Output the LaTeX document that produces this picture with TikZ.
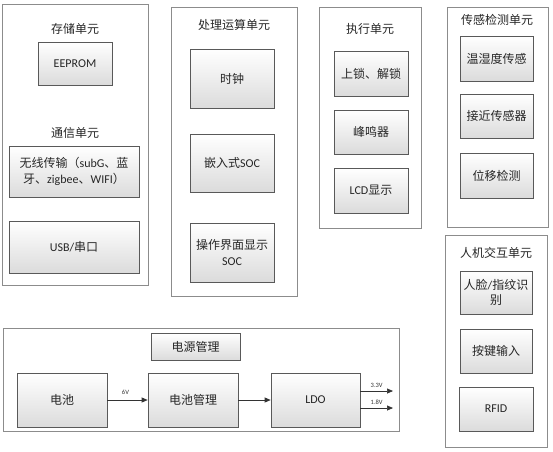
\documentclass[tikz,border=0pt]{standalone}
\usepackage{fontspec}
\setmainfont{Carlito}
\newfontfamily\cjk{Noto Sans CJK SC}
\usetikzlibrary{shadows,arrows.meta,shadings}
\newcommand{\zh}[1]{{\cjk #1}}
\begin{document}
\begin{tikzpicture}[x=1pt,y=-1pt,
  font=\fontsize{12}{15.5}\selectfont,
  container/.style={draw=black!45,line width=0.8pt,fill=white,
    drop shadow={shadow xshift=1pt,shadow yshift=-1pt,opacity=0.35,fill=black!50},
    inner sep=0pt,minimum width=#1},
  unitbox/.style={draw=black!65,line width=0.7pt,top color=white,bottom color=black!14,
    drop shadow={shadow xshift=1.2pt,shadow yshift=-1.2pt,opacity=0.4,fill=black!55},
    inner sep=1pt,align=center,text=black!85},
  title/.style={text=black!85,inner sep=0pt},
  conn/.style={draw=black!80,line width=0.7pt,-{Triangle[length=6pt,width=5pt]}},
  small/.style={font=\fontsize{6.5}{7}\selectfont,text=black!80,inner sep=0pt}
]
\useasboundingbox (0,0) rectangle (553,451);

% ---- storage & comms
\node[container=146pt,minimum height=281pt] (c1) at (75,144.5) {};
\node[title] (t1) at (75,29) {\zh{存储单元}};
\node[unitbox,minimum width=74pt,minimum height=43pt] (eeprom) at (75,63.5) {EEPROM};
\node[title] (t2) at (75,133) {\zh{通信单元}};
\node[unitbox,minimum width=130pt,minimum height=51pt] (wireless) at (74,171.5)
  {\zh{无线传输（}subG\zh{、蓝}\\\zh{牙、}zigbee\zh{、}WIFI\zh{）}};
\node[unitbox,minimum width=130pt,minimum height=52pt] (usb) at (74,247) {USB/\zh{串口}};

% ---- processing
\node[container=126pt,minimum height=289pt] (c2) at (234,151.5) {};
\node[title] (t3) at (234,25) {\zh{处理运算单元}};
\node[unitbox,minimum width=84pt,minimum height=59pt] (clk) at (232,78.5) {\zh{时钟}};
\node[unitbox,minimum width=84pt,minimum height=58pt] (soc) at (232,163) {\zh{嵌入式}SOC};
\node[unitbox,minimum width=84pt,minimum height=59pt] (ui) at (232,252.5) {\zh{操作界面显示}\\SOC};

% ---- actuators
\node[container=102pt,minimum height=221pt] (c3) at (370,117.5) {};
\node[title] (t4) at (370,29) {\zh{执行单元}};
\node[unitbox,minimum width=74pt,minimum height=45pt] (lock) at (371,73.5) {\zh{上锁、解锁}};
\node[unitbox,minimum width=74pt,minimum height=44pt] (buzz) at (371,132) {\zh{峰鸣器}};
\node[unitbox,minimum width=74pt,minimum height=45pt] (lcd) at (371,190.5) {LCD\zh{显示}};

% ---- sensors
\node[container=101pt,minimum height=220pt] (c4) at (497.5,117) {};
\node[title] (t5) at (497,20) {\zh{传感检测单元}};
\node[unitbox,minimum width=73pt,minimum height=45pt] (th) at (496.5,58.5) {\zh{温湿度传感}};
\node[unitbox,minimum width=73pt,minimum height=44pt] (prox) at (496.5,116) {\zh{接近传感器}};
\node[unitbox,minimum width=73pt,minimum height=45pt] (disp) at (496.5,175.5) {\zh{位移检测}};

% ---- HMI
\node[container=102pt,minimum height=212pt] (c5) at (496,341) {};
\node[title] (t6) at (496,253) {\zh{人机交互单元}};
\node[unitbox,minimum width=72pt,minimum height=43pt] (face) at (496,292.5) {\zh{人脸}/\zh{指纹识}\\\zh{别}};
\node[unitbox,minimum width=72pt,minimum height=44pt] (key) at (496,351) {\zh{按键输入}};
\node[unitbox,minimum width=74pt,minimum height=44pt] (rfid) at (496,409) {RFID};

% ---- power
\node[container=396pt,minimum height=103pt] (c6) at (201,379.5) {};
\node[unitbox,minimum width=89pt,minimum height=27pt] (pm) at (195.5,346.5) {\zh{电源管理}};
\node[unitbox,minimum width=90pt,minimum height=54pt] (bat) at (62,400) {\zh{电池}};
\node[unitbox,minimum width=90pt,minimum height=54pt] (bm) at (193,400) {\zh{电池管理}};
\node[unitbox,minimum width=89pt,minimum height=54pt] (ldo) at (315.5,400) {LDO};

\coordinate (o33) at (393,391);
\coordinate (o18) at (393,408);
\draw[conn] (bat) -- node[small,pos=0.45,above=5pt] (l6) {6V} (bm);
\draw[conn] (bm) -- (ldo);
\draw[conn] (ldo.east |- o33) -- node[small,pos=0.5,above=3pt] (l33) {3.3V} (o33);
\draw[conn] (ldo.east |- o18) -- node[small,pos=0.5,above=3pt] (l18) {1.8V} (o18);
\end{tikzpicture}
\end{document}
